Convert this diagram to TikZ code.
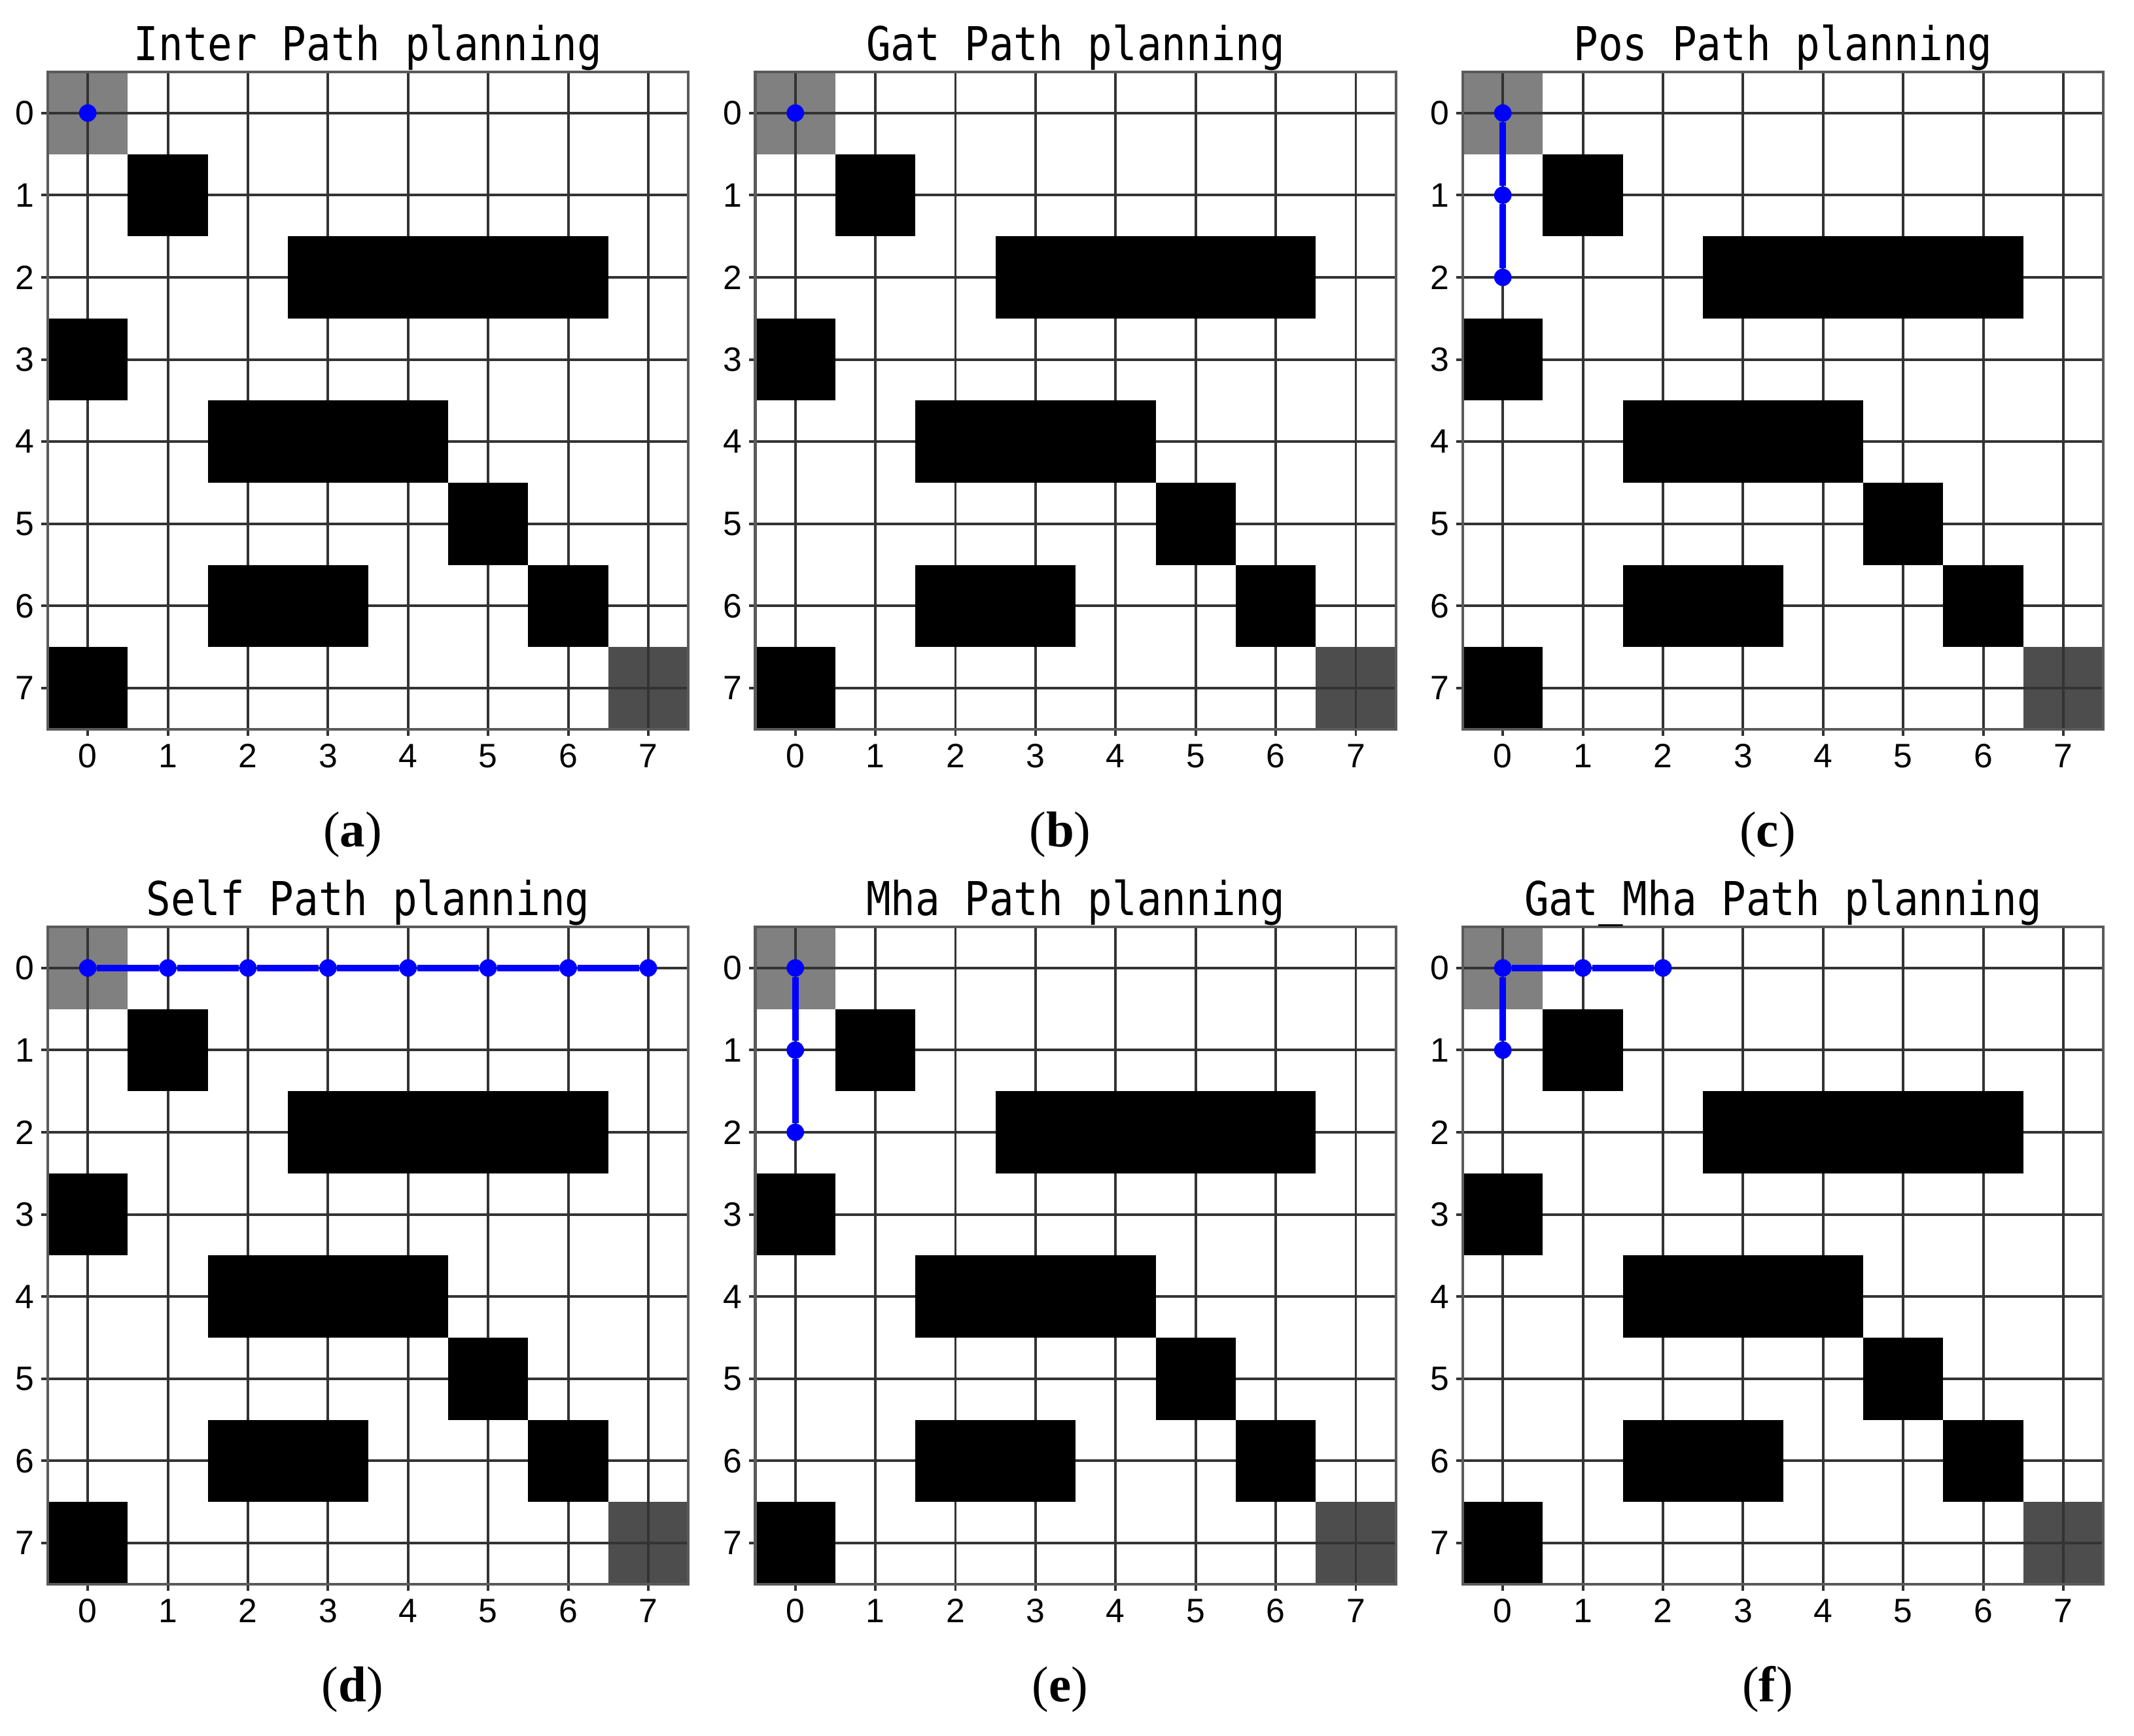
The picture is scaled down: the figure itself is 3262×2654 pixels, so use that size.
\documentclass[tikz,border=0pt]{standalone}
\usepackage{fontspec}
\setmainfont{Liberation Serif}
\newfontfamily\titlefont[FakeStretch=0.876]{DejaVu Sans Mono}
\newfontfamily\tickfont{Liberation Sans}
\definecolor{startgray}{HTML}{808080}
\definecolor{goalgray}{HTML}{4D4D4D}
\definecolor{gridc}{HTML}{333333}
\definecolor{framec}{HTML}{5A5A5A}
\tikzset{
  gridline/.style={draw=gridc, line width=1.1pt},
  frameline/.style={draw=framec, line width=1.2pt},
  pathline/.style={draw=blue, line width=2.8pt},
  dot/.style={circle, fill=blue, inner sep=0pt, minimum size=7.6pt},
  titletext/.style={font=\titlefont\fontsize{20.3}{24}\selectfont, inner sep=0pt, anchor=base},
  ticktext/.style={font=\tickfont\fontsize{14.7}{17}\selectfont, inner sep=0pt},
  captext/.style={font=\fontsize{21.9}{26}\selectfont, inner sep=0pt},
}
\def\cw{122.4}
\def\ch{125.6}
\newcommand{\gridpanel}[5]{%
  \begin{scope}[shift={(#2,#3)}]
    \fill[startgray] (0,0) rectangle (\cw,\ch);
    \fill[goalgray] (7*\cw,7*\ch) rectangle (8*\cw,8*\ch);
    \foreach \i in {0,...,7} {
      \draw[gridline] ({(\i+0.5)*\cw},0) -- ({(\i+0.5)*\cw},{8*\ch+10});
      \draw[gridline] (-10,{(\i+0.5)*\ch}) -- ({8*\cw},{(\i+0.5)*\ch});
      \node[ticktext, anchor=north] (#1x\i) at ({(\i+0.5)*\cw},{8*\ch+22}) {\i};
      \node[ticktext, anchor=east] (#1y\i) at (-20,{(\i+0.5)*\ch}) {\i};
    }
    \foreach \r/\ca/\cb in {1/1/1,2/3/6,3/0/0,4/2/4,5/5/5,6/2/3,6/6/6,7/0/0}
      \fill[black] ({\ca*\cw},{\r*\ch}) rectangle ({(\cb+1)*\cw},{(\r+1)*\ch});
    \draw[frameline] (0,0) rectangle ({8*\cw},{8*\ch});
    \node[titletext] (#1title) at ({4*\cw},-18) {#4};
    \node[captext] (#1cap) at (466,1166) {(\textbf{#5})};
    \foreach \r in {0,...,7}
      \foreach \c in {0,...,7}
        \coordinate (#1p\r\c) at ({(\c+0.5)*\cw},{(\r+0.5)*\ch});
  \end{scope}}
\begin{document}
\begin{tikzpicture}[x=0.01cm,y=-0.01cm]
  \fill[white] (0,0) rectangle (3262,2654);
  \useasboundingbox (0,0) rectangle (3262,2654);
  \gridpanel{a}{73}{110}{Inter Path planning}{a}
  \gridpanel{b}{1154.5}{110}{Gat Path planning}{b}
  \gridpanel{c}{2236}{110}{Pos Path planning}{c}
  \gridpanel{d}{73}{1417}{Self Path planning}{d}
  \gridpanel{e}{1154.5}{1417}{Mha Path planning}{e}
  \gridpanel{f}{2236}{1417}{Gat\_Mha Path planning}{f}
  % (a)
  \node[dot] (ad00) at (ap00) {};
  % (b)
  \node[dot] (bd00) at (bp00) {};
  % (c)
  \node[dot] (cd00) at (cp00) {};
  \node[dot] (cd10) at (cp10) {};
  \node[dot] (cd20) at (cp20) {};
  \draw[pathline] (cd00) -- (cd10) -- (cd20);
  % (d)
  \foreach \c in {0,...,7} \node[dot] (dd0\c) at (dp0\c) {};
  \draw[pathline] (dd00) -- (dd01) -- (dd02) -- (dd03) -- (dd04) -- (dd05) -- (dd06) -- (dd07);
  % (e)
  \node[dot] (ed00) at (ep00) {};
  \node[dot] (ed10) at (ep10) {};
  \node[dot] (ed20) at (ep20) {};
  \draw[pathline] (ed00) -- (ed10) -- (ed20);
  % (f)
  \node[dot] (fd10) at (fp10) {};
  \node[dot] (fd00) at (fp00) {};
  \node[dot] (fd01) at (fp01) {};
  \node[dot] (fd02) at (fp02) {};
  \draw[pathline] (fd10) -- (fd00) -- (fd01) -- (fd02);
\end{tikzpicture}
\end{document}
